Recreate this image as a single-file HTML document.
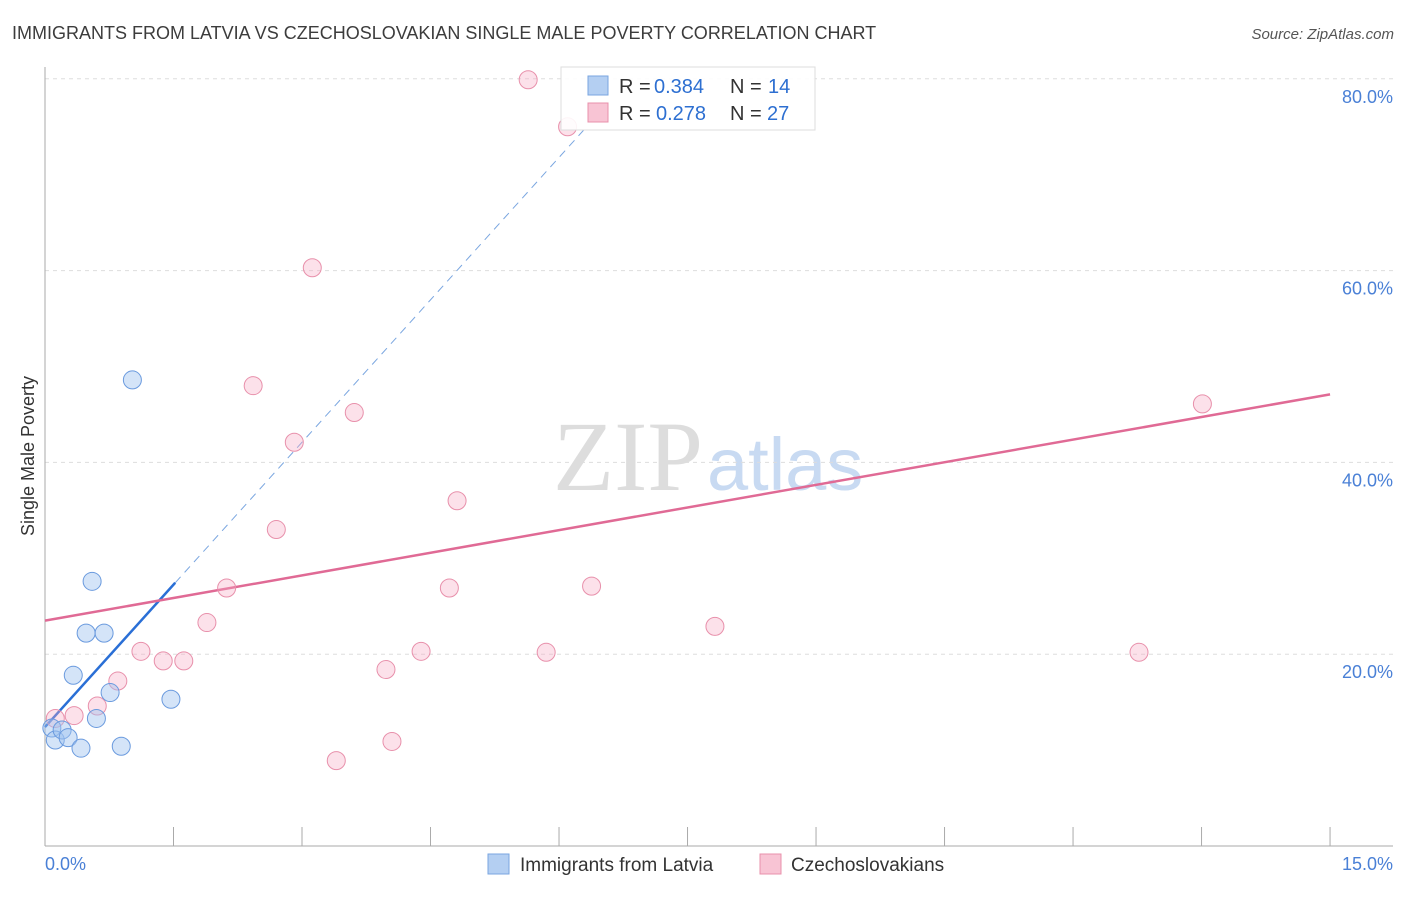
<!DOCTYPE html>
<html><head><meta charset="utf-8"><style>
body{margin:0;background:#fff;font-family:"Liberation Sans",sans-serif;}
</style></head><body>
<svg id="chart" width="1406" height="892" xmlns="http://www.w3.org/2000/svg" font-family="Liberation Sans, sans-serif">
<text x="12" y="39" font-size="18" fill="#3c3c3c">IMMIGRANTS FROM LATVIA VS CZECHOSLOVAKIAN SINGLE MALE POVERTY CORRELATION CHART</text>
<text x="1394" y="39" font-size="15" fill="#555" text-anchor="end" font-style="italic">Source: ZipAtlas.com</text>
<text x="553" y="490" font-size="100" fill="#ddd" font-family="Liberation Serif, serif">ZIP<tspan fill="#c8daf2" font-family="Liberation Sans, sans-serif" font-size="74" dx="4">atlas</tspan></text>
<text transform="translate(34,456) rotate(-90)" font-size="18" fill="#333" text-anchor="middle">Single Male Poverty</text>
<g id="grid"></g><g id="axes"></g><g id="trends"></g><g id="points"></g>
<g>
<rect x="561" y="67" width="254" height="63" fill="#fff" fill-opacity="0.9" stroke="#ddd"/>
<rect x="588" y="76" width="20" height="19" fill="#b4cff2" stroke="#7aa6e0"/>
<rect x="588" y="103" width="20" height="19" fill="#f8c4d4" stroke="#e890ab"/>
<text x="619" y="93" font-size="20" fill="#333">R =</text>
<text x="654" y="93" font-size="20" fill="#2d6fd1">0.384</text>
<text x="730" y="93" font-size="20" fill="#333">N =</text>
<text x="768" y="93" font-size="20" fill="#2d6fd1">14</text>
<text x="619" y="120" font-size="20" fill="#333">R =</text>
<text x="656" y="120" font-size="20" fill="#2d6fd1">0.278</text>
<text x="730" y="120" font-size="20" fill="#333">N =</text>
<text x="767" y="120" font-size="20" fill="#2d6fd1">27</text>
</g>
<g>
<rect x="488" y="854" width="21" height="20" fill="#b4cff2" stroke="#7aa6e0"/>
<text x="520" y="871" font-size="19" fill="#333">Immigrants from Latvia</text>
<rect x="760" y="854" width="21" height="20" fill="#f8c4d4" stroke="#e890ab"/>
<text x="791" y="871" font-size="19" fill="#333">Czechoslovakians</text>
</g>
</svg>
<script>
const blueX=[0.08,0.12,0.20,0.27,0.42,0.33,0.55,0.48,0.69,0.76,0.60,0.89,1.02,1.47];
const blueY=[12.3,11.05,12.1,11.3,10.2,17.8,27.6,22.2,22.2,16.0,13.3,10.4,48.6,15.3];
const pinkX=[5.64,6.10,3.12,2.43,3.61,2.91,4.81,2.70,2.12,4.72,6.38,1.89,7.82,1.12,1.38,1.62,4.39,5.85,12.77,13.51,3.98,0.85,0.61,0.34,0.12,4.05,3.40];
const pinkY=[79.9,75.0,60.3,48.0,45.2,42.1,36.0,33.0,26.9,26.9,27.1,23.3,22.9,20.3,19.3,19.3,20.3,20.2,20.2,46.1,18.4,17.2,14.6,13.6,13.3,10.9,8.9];
const yTicks=[20,40,60,80];
const yTickLabels=["20.0%","40.0%","60.0%","80.0%"];
const xTicks=[1.5,3,4.5,6,7.5,9,10.5,12,13.5,15];
const blueTrend=[12.4,9.9];
const pinkTrend=[23.5,1.573];
const sx=v=>45+v*85.67, sy=v=>846-v*9.59;
const NS="http://www.w3.org/2000/svg";
function mk(tag,attrs,parent){const e=document.createElementNS(NS,tag);for(const k in attrs)e.setAttribute(k,attrs[k]);document.getElementById(parent).appendChild(e);return e;}
yTicks.forEach((t,i)=>{
 const l=mk('line',{x1:45,x2:1393,y1:sy(t),y2:sy(t),stroke:'#ddd','stroke-dasharray':'4,4'},'grid');
 
 
 const tx=mk('text',{x:1393,y:sy(t)+24,'font-size':18,fill:'#4a80d6','text-anchor':'end'},'axes');
 tx.textContent=yTickLabels[i];
 
 
});
const ya=mk('line',{x1:45,x2:45,y1:67,y2:846,stroke:'#aaa'},'axes');


const xa=mk('line',{x1:45,x2:1393,y1:846,y2:846,stroke:'#aaa'},'axes');


xTicks.forEach(t=>{const l=mk('line',{x1:sx(t),x2:sx(t),y1:827,y2:846,stroke:'#aaa'},'axes');
 
 });
let t0=mk('text',{x:45,y:870,'font-size':18,fill:'#4a80d6'},'axes');t0.textContent='0.0%';


let t1=mk('text',{x:1393,y:870,'font-size':18,fill:'#4a80d6','text-anchor':'end'},'axes');t1.textContent='15.0%';


const bx1=1.52,bx2=6.3;
let b1=mk('line',{x1:sx(0),y1:sy(blueTrend[0]),x2:sx(bx1),y2:sy(blueTrend[0]+blueTrend[1]*bx1),stroke:'#2a6fd6','stroke-width':2.5},'trends');


let b2=mk('line',{x1:sx(bx1),y1:sy(blueTrend[0]+blueTrend[1]*bx1),x2:sx(bx2),y2:sy(blueTrend[0]+blueTrend[1]*bx2),stroke:'#7aa6e0','stroke-width':1,'stroke-dasharray':'8,6'},'trends');


let p1=mk('line',{x1:sx(0),y1:sy(pinkTrend[0]),x2:sx(15),y2:sy(pinkTrend[0]+pinkTrend[1]*15),stroke:'#e06a95','stroke-width':2.5},'trends');


pinkX.forEach((x,i)=>{const c=mk('circle',{cx:sx(x),cy:sy(pinkY[i]),r:9,fill:'rgba(245,170,195,0.35)',stroke:'#e890ab','stroke-width':1},'points');
 
 });
blueX.forEach((x,i)=>{const c=mk('circle',{cx:sx(x),cy:sy(blueY[i]),r:9,fill:'rgba(160,195,240,0.45)',stroke:'#6a9ade','stroke-width':1},'points');
 
 });
</script>
</body></html>
